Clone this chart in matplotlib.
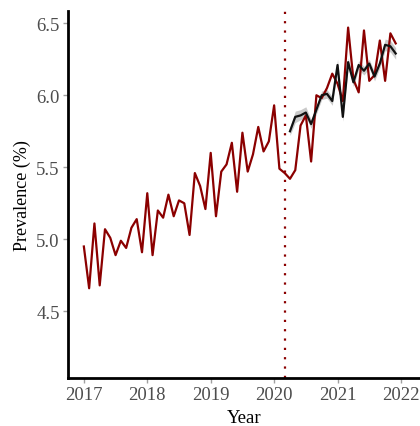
import matplotlib
matplotlib.use("Agg")
import matplotlib.pyplot as plt
import numpy as np

plt.rcParams['font.family'] = ['Liberation Serif', 'DejaVu Serif']

# Observed monthly prevalence, Jan 2017 - Dec 2021
observed = [4.95, 4.66, 5.11, 4.68, 5.07, 5.01, 4.89, 4.99, 4.94, 5.08, 5.14, 4.91,
            5.32, 4.89, 5.20, 5.15, 5.31, 5.16, 5.27, 5.25, 5.03, 5.46, 5.37, 5.21,
            5.60, 5.16, 5.47, 5.52, 5.67, 5.33, 5.74, 5.47, 5.59, 5.78, 5.61, 5.68,
            5.93, 5.49, 5.46, 5.42, 5.48, 5.79, 5.86, 5.54, 6.00, 5.98, 6.05, 6.15,
            6.08, 5.96, 6.47, 6.11, 6.02, 6.45, 6.10, 6.14, 6.38, 6.10, 6.43, 6.36]

# Predicted (modelled) prevalence, Apr 2020 - Dec 2021
predicted = [5.75, 5.85, 5.86, 5.88, 5.80, 5.90, 6.00, 6.01, 5.96, 6.21, 5.85,
             6.23, 6.09, 6.21, 6.17, 6.22, 6.13, 6.22, 6.35, 6.34, 6.29]
pred_lower = [5.72, 5.81, 5.83, 5.85, 5.77, 5.87, 5.97, 5.98, 5.93, 6.17, 5.82,
              6.20, 6.06, 6.18, 6.14, 6.19, 6.10, 6.19, 6.31, 6.30, 6.25]
pred_upper = [5.78, 5.89, 5.90, 5.92, 5.83, 5.93, 6.03, 6.04, 5.99, 6.25, 5.88,
              6.26, 6.12, 6.24, 6.20, 6.25, 6.16, 6.25, 6.39, 6.38, 6.33]

intervention = 2020 + 2 / 12  # March 2020

x_obs = 2017 + np.arange(len(observed)) / 12
x_pred = 2020 + 3 / 12 + np.arange(len(predicted)) / 12

fig = plt.figure(figsize=(4.2, 4.27), dpi=100)
ax = fig.add_axes([68 / 420, 1 - 379 / 427, 1 - 68 / 420, (379 - 12) / 427])

red = '#8B0000'
ax.fill_between(x_pred, pred_lower, pred_upper, color='#bdbdbd', alpha=0.8, lw=0, zorder=2)
ax.plot(x_obs, observed, color=red, lw=1.6, zorder=3)
ax.plot(x_pred, predicted, color='#111111', lw=1.6, zorder=4)
ax.axvline(intervention, color=red, ls=(0, (1, 3.2)), lw=1.6, zorder=1)

ax.set_xlim(2016.75, 2022.3)
ax.set_ylim(4.037, 6.585)
ax.set_xticks([2017, 2018, 2019, 2020, 2021, 2022])
ax.set_yticks([4.5, 5.0, 5.5, 6.0, 6.5])
ax.set_yticklabels(['4.5', '5.0', '5.5', '6.0', '6.5'])

for s in ['top', 'right']:
    ax.spines[s].set_visible(False)
for s in ['left', 'bottom']:
    ax.spines[s].set_linewidth(2.0)
    ax.spines[s].set_color('black')

ax.tick_params(axis='both', colors='#a0a0a0', length=3.5, width=1.0,
               labelcolor='#4d4d4d', labelsize=13.5, pad=2.5)
ax.set_xlabel('Year', fontsize=13.5, color='black', labelpad=4)
ax.set_ylabel('Prevalence (%)', fontsize=13, color='black', labelpad=4)

fig.savefig('out.png', dpi=100)
